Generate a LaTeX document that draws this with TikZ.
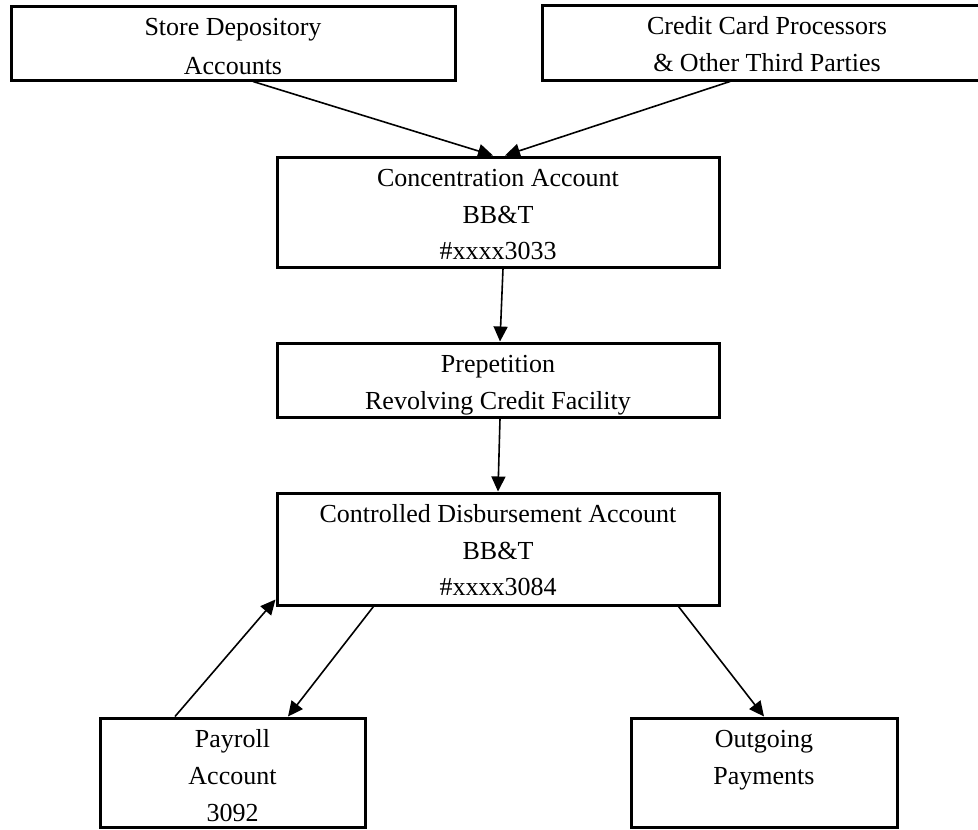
\documentclass[tikz,border=0pt]{standalone}
\usepackage{fontspec}
\setmainfont{Liberation Serif}
\usetikzlibrary{arrows.meta}
\newcommand\boxlines[4][36.5]{\parbox[c][#3][t]{#2}{\centering\fontsize{26}{#1}\selectfont\rule{0pt}{29.5pt}#4\par}}
\tikzset{
  box/.style={draw, line width=3pt, inner sep=0pt, rectangle},
  arr/.style={line width=1.6pt, -{Triangle[length=15pt,width=14pt]}},
}
\begin{document}
\begin{tikzpicture}[x=1pt,y=-1pt]
\useasboundingbox (0,0) rectangle (978,830);
\node[box] (sda)  at (233,43)    {\boxlines[39]{444pt}{74pt}{Store Depository\\Accounts}};
\node[box] (cc)   at (767,42.5)  {\boxlines{450pt}{75pt}{Credit Card Processors\\\& Other Third Parties}};
\node[box] (conc) at (498,212)   {\boxlines{442pt}{110pt}{Concentration Account\\BB\&T\\\#xxxx3033}};
\node[box] (prep) at (498,380)   {\boxlines{442pt}{74pt}{Prepetition\\Revolving Credit Facility}};
\node[box] (ctrl) at (498,549)   {\boxlines{442pt}{112pt}{Controlled Disbursement Account\\BB\&T\\\#xxxx3084}};
\node[box] (pay)  at (232.5,772.5) {\boxlines[37]{265pt}{109pt}{Payroll\\Account\\3092}};
\node[box] (out)  at (764,772.5) {\boxlines{266pt}{109pt}{Outgoing\\Payments}};
\draw[arr] ([xshift=20pt]sda.south) -- ([xshift=-5pt]conc.north);
\draw[arr] ([xshift=-37pt]cc.south) -- ([xshift=7pt]conc.north);
\draw[arr] ([xshift=5pt]conc.south) -- ([xshift=2pt]prep.north);
\draw[arr] ([xshift=2pt]prep.south) -- (ctrl.north);
\draw[arr] ([xshift=-57.5pt]pay.north) -- ([yshift=7pt]ctrl.south west);
\draw[arr] ([xshift=98pt]ctrl.south west) -- ([xshift=55.5pt]pay.north);
\draw[arr] ([xshift=-42pt]ctrl.south east) -- (out.north);
\end{tikzpicture}
\end{document}
